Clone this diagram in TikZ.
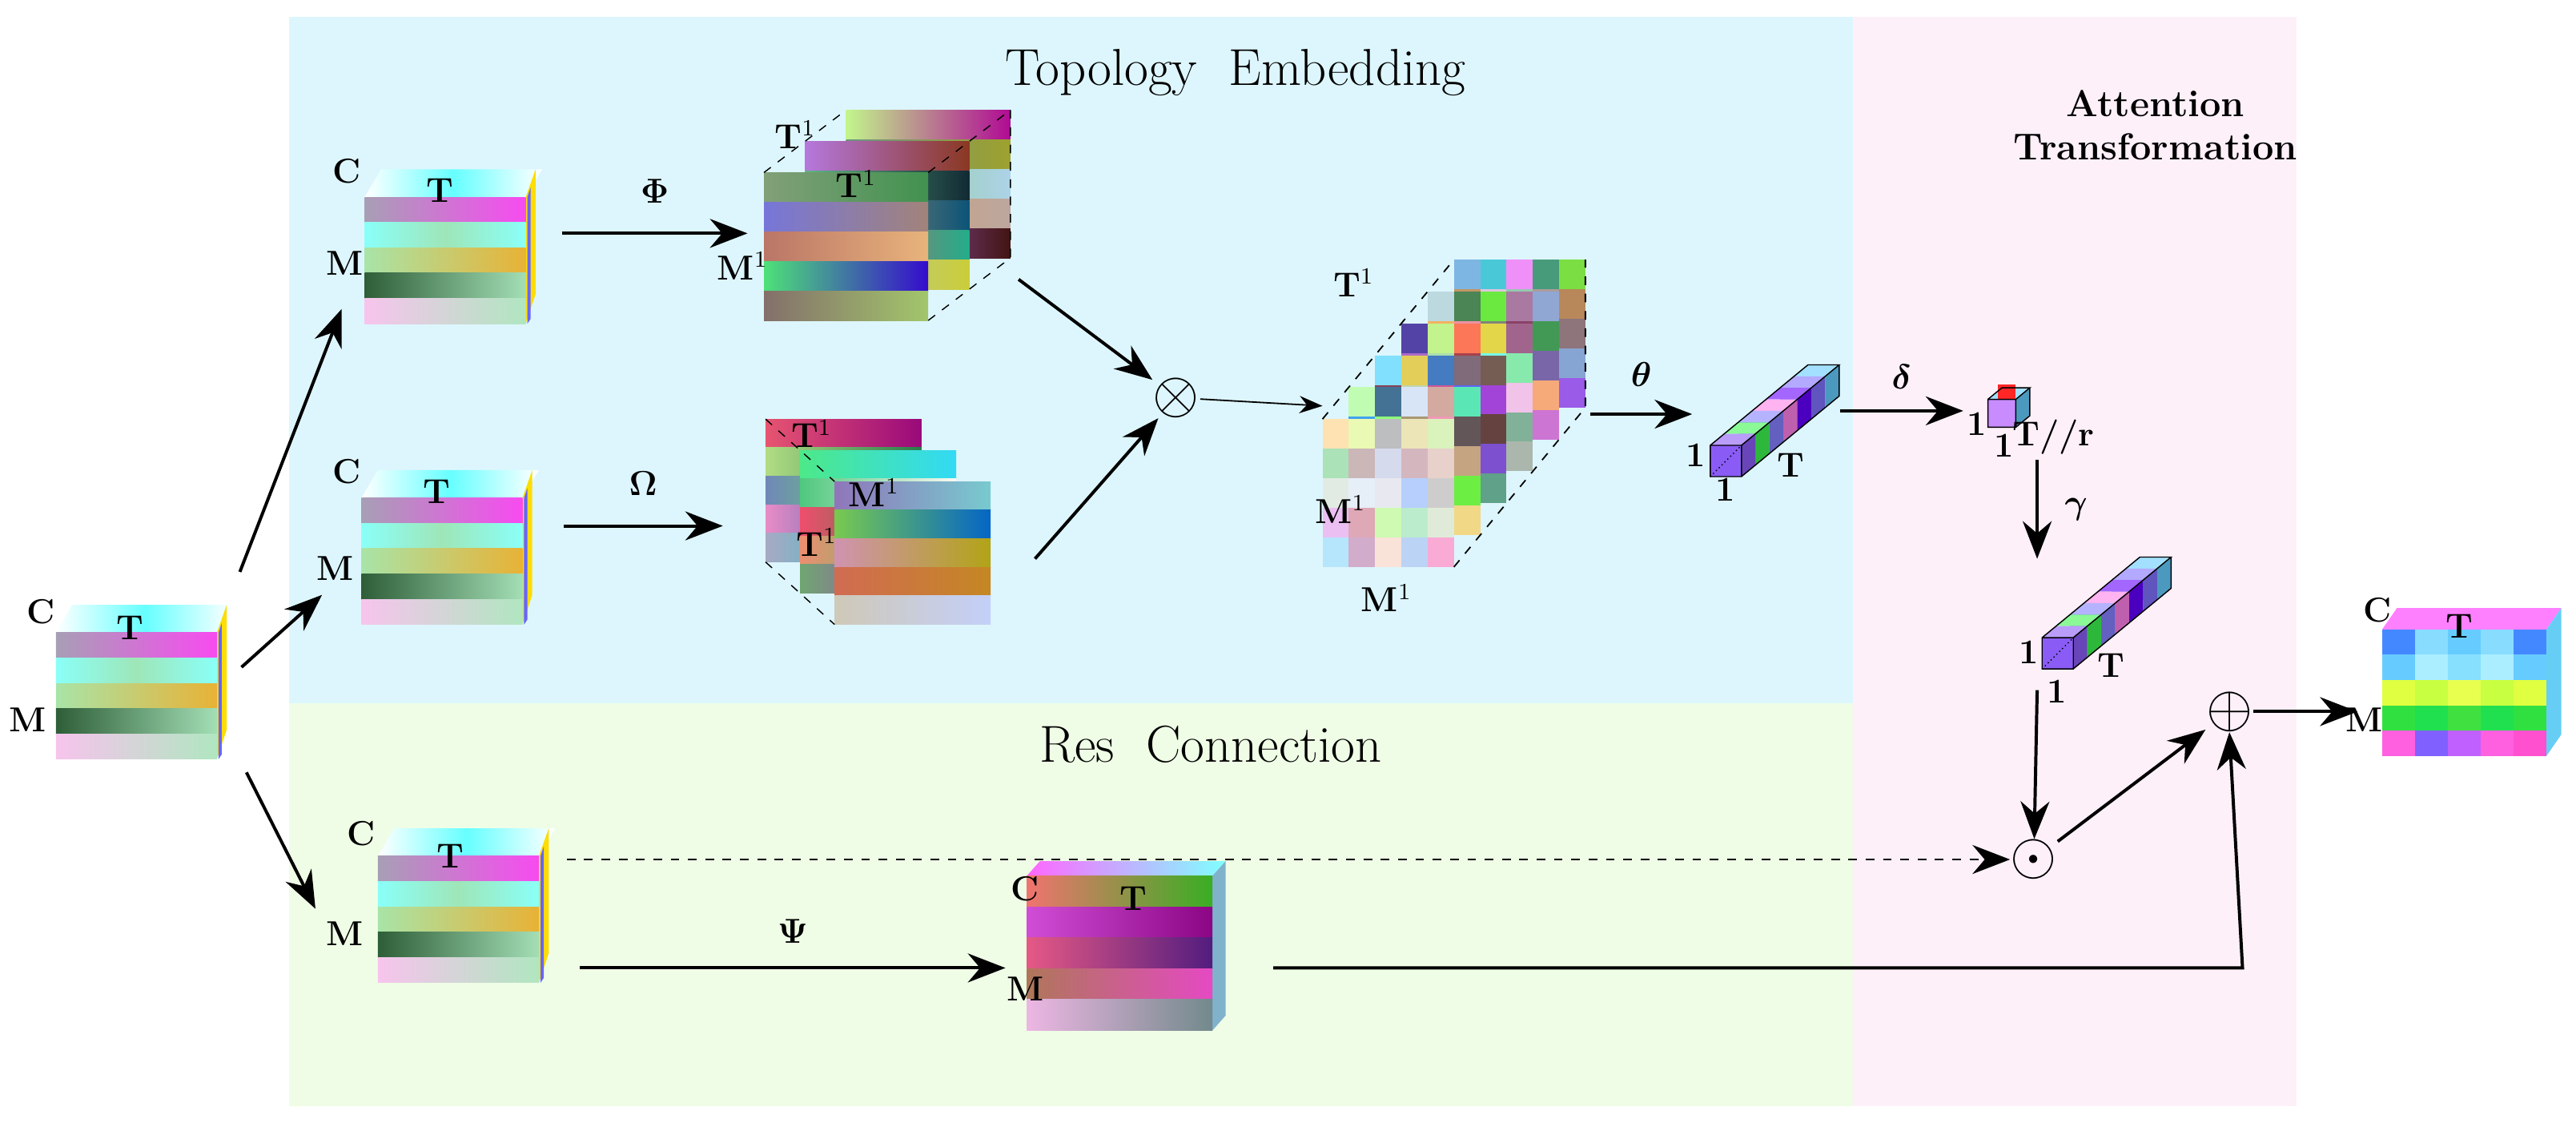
\documentclass[tikz,border=0pt]{standalone}
\usepackage{amsmath,amssymb,bm}
\usetikzlibrary{arrows.meta}
\newcommand\rndcol[1]{\pgfmathsetmacro\ra{rnd}\pgfmathsetmacro\rb{rnd}\pgfmathsetmacro\rcc{rnd}\definecolor{#1}{rgb}{\ra,\rb,\rcc}}
\definecolor{pblue}{HTML}{DDF6FD}
\definecolor{pgreen}{HTML}{EFFDE6}
\definecolor{ppink}{HTML}{FDF0F8}
\definecolor{rcA}{HTML}{66CCFF}\definecolor{rcB}{HTML}{8070FF}\definecolor{rcC}{HTML}{6600FF}
\definecolor{rcD}{HTML}{FF80E8}\definecolor{rcE}{HTML}{8480FF}\definecolor{rcF}{HTML}{3CF550}\definecolor{rcG}{HTML}{8A5CF5}
\definecolor{s1a}{HTML}{A79FB5}\definecolor{s1b}{HTML}{F74BF0}
\definecolor{s2a}{HTML}{8AFFF8}\definecolor{s2m}{HTML}{9EE6B8}
\definecolor{s3a}{HTML}{A8E4A8}\definecolor{s3b}{HTML}{E8B236}
\definecolor{s4a}{HTML}{2E5E38}\definecolor{s4b}{HTML}{A3DEB5}
\definecolor{s5a}{HTML}{F7C4ED}\definecolor{s5b}{HTML}{B0E6C0}
\definecolor{dpur}{HTML}{C88CFF}
\newcommand\scube[2]{%
  \shade[left color=white,right color=white,middle color=cyan!60] (#1,#2) -- ++(10,-17) -- ++(98,0) -- ++(-10,17) -- cycle;
  \fill[yellow!80!orange] (#1+98,#2) -- ++(6,-17) -- ++(0,76) -- ++(-6,18) -- cycle;
  \fill[blue!60] (#1+99,#2) -- ++(2,-6) -- ++(0,80) -- ++(-2,3) -- cycle;
  \shade[left color=s1a,right color=s1b] (#1,#2) rectangle ++(98,15.4);
  \shade[left color=s2a,right color=s2a,middle color=s2m] (#1,#2+15.4) rectangle ++(98,15.4);
  \shade[left color=s3a,right color=s3b] (#1,#2+30.8) rectangle ++(98,15.4);
  \shade[left color=s4a,right color=s4b] (#1,#2+46.2) rectangle ++(98,15.4);
  \shade[left color=s5a,right color=s5b] (#1,#2+61.6) rectangle ++(98,15.4);
}
\newcommand\rlayer[4]{%
  \foreach \s in {0,...,4}{\rndcol{ca}\rndcol{cb}
    \shade[left color=ca!70!white,right color=cb] (#1,#2+\s*#4/5) rectangle ++(#3,#4/5);}}
\newcommand\scb[4]{%
  \fill[#4!60!white] (#1,#2) -- ++(8.5,-7) -- ++(#3,0) -- ++(-8.5,7) -- cycle;
  \fill[#4!75!black] (#1+#3,#2) -- ++(8.5,-7) -- ++(0,#3) -- ++(-8.5,7) -- cycle;
  \fill[#4] (#1,#2) rectangle ++(#3,#3);}
\newcommand\rod[2]{%
  \foreach \k/\c in {6/rcA,5/rcB,4/rcC,3/rcD,2/rcE,1/rcF,0/rcG}
    {\scb{#1+8.5*\k}{#2-7*\k}{19}{\c}}
  \draw[line width=0.4pt] (#1,#2) rectangle ++(19,19) (#1,#2) -- ++(59.5,-49) -- ++(19,0) -- ++(-59.5,49) ++(0,19) -- ++(59.5,-49) -- ++(0,-19);
  \draw[densely dotted,line width=0.4pt] (#1,#2+19) -- ++(19,-19);}
\begin{document}
\begin{tikzpicture}[x=0.02cm,y=-0.02cm,
  lab/.style={font=\fontsize{12}{14}\selectfont\bfseries,inner sep=0pt},
  ttl/.style={font=\fontsize{18}{21}\selectfont},
  arr/.style={-{Stealth[length=13,width=10]},line width=1.1pt},
  op/.style={font=\fontsize{22}{22}\selectfont,inner sep=0pt}]
\useasboundingbox (0,0) rectangle (1568,690.6);
\pgfmathsetseed{11}
\fill[pblue] (176,10) rectangle (1128,428);
\fill[pgreen] (176,428) rectangle (1128,673);
\fill[ppink] (1128,10) rectangle (1398,673);
\node[ttl] (t1) at (752,44) {Topology\ \ Embedding};
\node[ttl] (t2) at (737,453) {Res\ \ Connection};
\node[font=\fontsize{13}{15}\selectfont\bfseries,align=center,inner sep=0pt] (t3) at (1312,76) {Attention\\Transformation};
\scube{34}{385}
\node[lab] (inC) at (25,372) {C}; \node[lab] (inT) at (79,382) {T}; \node[lab] (inM) at (17,438) {M};
\scube{222}{120}
\node[lab] at (211,104) {C}; \node[lab] at (268,116) {T}; \node[lab] at (210,160) {M};
\scube{220}{303}
\node[lab] at (211,287) {C}; \node[lab] at (266,299) {T}; \node[lab] at (204,346) {M};
\scube{230}{521}
\node[lab] at (220,507) {C}; \node[lab] at (274,521) {T}; \node[lab] at (210,568) {M};
\coordinate (a1s) at (146,348); \coordinate (a1e) at (208,188);
\coordinate (a2s) at (147,406); \coordinate (a2e) at (196,362);
\coordinate (a3s) at (150,470); \coordinate (a3e) at (192,553);
\draw[arr] (a1s) -- (a1e); \draw[arr] (a2s) -- (a2e); \draw[arr] (a3s) -- (a3e);
\coordinate (p1) at (342,142); \coordinate (p2) at (455,142);
\draw[arr] (p1) -- node[above=10pt,lab] {$\bm\Phi$} (p2);
\foreach \k in {2,1,0}{\rlayer{465+25*\k}{105-19*\k}{100}{90}}
\draw[dashed,line width=0.4pt] (465,105) -- (515,67) (565,105) -- (615,67) (565,195) -- (615,157) -- (615,67);
\node[lab] at (484,82) {T$^1$}; \node[lab] at (521,112) {T$^1$}; \node[lab] at (452,162) {M$^1$};
\coordinate (o1) at (343,320); \coordinate (o2) at (440,320);
\draw[arr] (o1) -- node[above=10pt,lab] {$\bm\Omega$} (o2);
\foreach \k in {0,1,2}{\rlayer{466+21*\k}{255+19*\k}{95}{87}}
\draw[dashed,line width=0.4pt] (466,255) -- (508,293) (466,342) -- (508,380);
\node[lab] at (494,264) {T$^1$}; \node[lab] at (497,330) {T$^1$}; \node[lab] at (532,300) {M$^1$};
\node[op] (ot) at (716,242) {$\otimes$};
\coordinate (ph) at (620,170); \coordinate (om) at (630,340);
\draw[arr] (ph) -- (ot); \draw[arr] (om) -- (ot);
\coordinate (big) at (805,247);
\draw[-{Stealth[length=8,width=6]},line width=0.5pt] (ot) -- (big);
\foreach \k in {5,...,1}{\foreach \i in {0,...,4}{\foreach \j in {0,...,4}{\rndcol{cc}
  \fill[cc!75!white] (805+16*\k+16*\i,255-19.4*\k+18*\j) rectangle ++(16,18);}}}
\foreach \i in {0,...,4}{\foreach \j in {0,...,4}{\rndcol{cc}
  \fill[cc!35!white] (805+16*\i,255+18*\j) rectangle ++(16,18);}}
\draw[dashed,line width=0.5pt] (805,255) -- (885,158) (885,345) -- (965,248) -- (965,158);
\node[lab] at (824,172) {T$^1$}; \node[lab] at (816,310) {M$^1$}; \node[lab] at (844,364) {M$^1$};
\coordinate (th1) at (968,252); \coordinate (th2) at (1030,252);
\draw[arr] (th1) -- node[above=9pt,lab] {$\bm\theta$} (th2);
\rod{1041}{271}
\node[lab] at (1032,277) {1}; \node[lab] at (1050,298) {1}; \node[lab] at (1090,283) {T};
\coordinate (d1) at (1120,250); \coordinate (d2) at (1195,250);
\draw[arr] (d1) -- node[above=7pt,lab] {$\bm\delta$} (d2);
\scb{1210}{243}{17}{rcA}
\fill[dpur] (1210,243) rectangle ++(17,17);
\fill[red!85] (1216,234) rectangle ++(11,9);
\draw[line width=0.4pt] (1210,243) rectangle ++(17,17) (1210,243) -- ++(8.5,-7) -- ++(17,0) -- ++(-8.5,7) (1227,260) -- ++(8.5,-7) -- ++(0,-17);
\node[lab] (dc) at (1203,258) {1}; \node[lab] at (1220,271) {1}; \node[lab] at (1250,266) {T//r};
\coordinate (g1) at (1240,280); \coordinate (g2) at (1240,340);
\draw[arr] (g1) -- node[right=9pt,lab] {$\bm\gamma$} (g2);
\rod{1243}{388}
\node[lab] at (1235,397) {1}; \node[lab] at (1252,421) {1}; \node[lab] at (1285,405) {T};
\node[op] (od) at (1238,523) {$\odot$};
\coordinate (r1) at (1240,420);
\draw[arr] (r1) -- (od);
\coordinate (ds) at (345,523);
\draw[arr,dashed,line width=0.8pt] (ds) -- (od);
\node[op] (op) at (1357,433) {$\oplus$};
\draw[arr] (od) -- (op);
\coordinate (ps1) at (353,589); \coordinate (ps2) at (612,589);
\draw[arr] (ps1) -- node[above=8pt,lab] {$\bm\Psi$} (ps2);
\shade[left color=magenta!60,right color=cyan!50] (625,533) -- ++(8,-9) -- ++(113,0) -- ++(-8,9) -- cycle;
\fill[green!40!blue!50] (738,533) -- ++(8,-9) -- ++(0,94) -- ++(-8,9) -- cycle;
\rlayer{625}{533}{113}{94}
\node[lab] at (624,541) {C}; \node[lab] at (690,547) {T}; \node[lab] at (624,602) {M};
\coordinate (rs) at (775,589); \coordinate (rc) at (1365,589);
\draw[arr] (rs) -- (rc) -- (op.south);
\coordinate (out) at (1435,433);
\draw[arr] (op) -- (out);
\shade[left color=magenta!50,middle color=white,right color=magenta!50] (1450,383) -- ++(9,-13) -- ++(100,0) -- ++(-9,13) -- cycle;
\fill[cyan!60] (1550,383) -- ++(9,-13) -- ++(0,77) -- ++(-9,13) -- cycle;
\foreach \j/\cl in {0/{4488FF,88DDFF,66CCFF,88DDFF,4488FF},1/{66CCFF,AAEEFF,88E0FF,AAEEFF,66CCFF},2/{E0FF40,C8FF40,E8FF50,C8FF40,E0FF40},3/{30E040,20E050,40E040,20E050,30E040},4/{FF60E0,8060FF,C060FF,FF60E0,FF50D0}}{
  \foreach \c [count=\i from 0] in \cl {\definecolor{oc}{HTML}{\c}\fill[oc] (1450+20*\i,383+15.4*\j) rectangle ++(20,15.4);}}
\node[lab] at (1447,371) {C}; \node[lab] at (1497,381) {T}; \node[lab] at (1439,438) {M};
\end{tikzpicture}
\end{document}
